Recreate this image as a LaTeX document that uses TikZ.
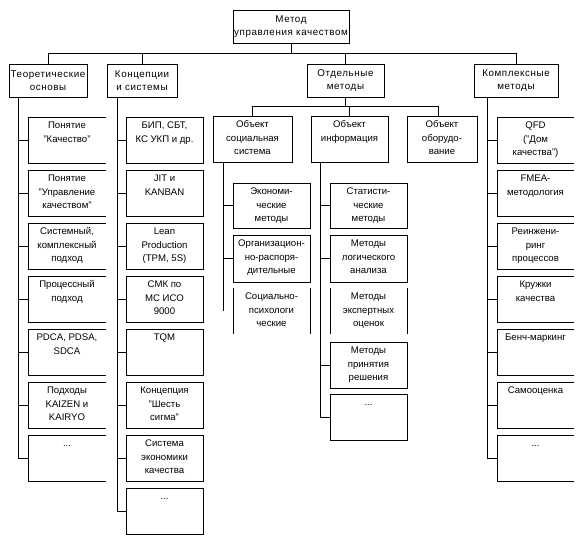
\documentclass[tikz,border=0pt]{standalone}
\usepackage{fontspec}
\setmainfont{Liberation Sans}
\newfontfamily\hdfont{Liberation Sans}[LetterSpace=6]
\newcommand\fsz{\fontsize{9.6}{13.5}\selectfont}
\newcommand\hsz{\hdfont\fontsize{9.8}{12.5}\selectfont}
\tikzset{
  ln/.style={line width=0.8pt, black},
  bxd/.style={draw, line width=0.8pt, anchor=north west, inner sep=0pt, outer sep=0pt},
  bxn/.style={anchor=north west, inner sep=0pt, outer sep=0pt},
  tx/.style={anchor=north, align=center, inner sep=0pt, font=\fsz},
  hd/.style={draw, line width=0.8pt, anchor=north west, inner sep=0pt, outer sep=0pt, align=center, font=\hsz},
}
% style, name, x, y, w, h, text
\newcommand\Bx[7]{%
  \node[#1, minimum width=#5pt, minimum height=#6pt] (#2) at (#3,#4) {};
  \node[tx] (#2t) at ([yshift=-3.5pt]#2.north) {\rule{0pt}{8pt}#7};}
\newcommand\OpenR[1]{\draw[ln] (#1.north east) -- (#1.north west) -- (#1.south west) -- (#1.south east);}
\newcommand\OpenTB[1]{\draw[ln] (#1.north west) -- (#1.south west); \draw[ln] (#1.north east) -- (#1.south east);}
\begin{document}
\begin{tikzpicture}[x=1pt,y=-1pt]
\useasboundingbox (0,0) rectangle (583,543);
% top
\node[hd, minimum width=116pt, minimum height=33pt] (T) at (233,10) {Метод\\управления качеством};
% level 1
\node[hd, minimum width=78pt, minimum height=33pt] (c1) at (9,64) {Теоретические\\основы};
\node[hd, minimum width=70pt, minimum height=33pt] (c2) at (107,64) {Концепции\\и системы};
\node[hd, minimum width=77pt, minimum height=33pt] (c3) at (307,64) {Отдельные\\методы};
\node[hd, minimum width=84pt, minimum height=33pt] (c4) at (474,64) {Комплексные\\методы};
\coordinate (bus) at (0,53);
\draw[ln] (T.south) -- (T.south |- bus);
\draw[ln] (c1.north) -- (c1.north |- bus) -- (c4.north |- bus) -- (c4.north);
\draw[ln] (c2.north |- bus) -- (c2.north);
\draw[ln] (c3.north |- bus) -- (c3.north);
% column 1
\Bx{bxn}{a1}{28}{117}{78}{46}{Понятие\\"Качество"}
\Bx{bxn}{a2}{28}{170}{78}{46}{Понятие\\"Управление\\качеством"}
\Bx{bxn}{a3}{28}{223}{78}{46}{Системный,\\комплексный\\подход}
\Bx{bxn}{a4}{28}{276}{78}{46}{Процессный\\подход}
\Bx{bxn}{a5}{28}{329}{78}{46}{PDCA, PDSA,\\SDCA}
\Bx{bxn}{a6}{28}{382}{78}{46}{Подходы\\KAIZEN и\\KAIRYO}
\Bx{bxn}{a7}{28}{435}{78}{46}{...}
\foreach \n in {a1,a2,a3,a4,a5,a6,a7} {\OpenR{\n}}
\draw[ln] (c1.south west) ++(9,0) coordinate (t1) |- (a7.west);
\foreach \n in {a1,a2,a3,a4,a5,a6} {\draw[ln] (t1 |- \n.west) -- (\n.west);}
% column 2
\Bx{bxd}{b1}{126}{117}{77}{46}{БИП, СБТ,\\КС УКП и др.}
\Bx{bxd}{b2}{126}{170}{77}{46}{JIT и\\KANBAN}
\Bx{bxd}{b3}{126}{223}{77}{46}{Lean\\Production\\(TPM, 5S)}
\Bx{bxd}{b4}{126}{276}{77}{46}{СМК по\\МС ИСО\\9000}
\Bx{bxd}{b5}{126}{329}{77}{46}{TQM}
\Bx{bxd}{b6}{126}{382}{77}{46}{Концепция\\"Шесть\\сигма"}
\Bx{bxd}{b7}{126}{435}{77}{46}{Система\\экономики\\качества}
\Bx{bxd}{b8}{126}{488}{77}{46}{...}
\draw[ln] (c2.south west) ++(10,0) coordinate (t2) |- (b8.west);
\foreach \n in {b1,b2,b3,b4,b5,b6,b7} {\draw[ln] (t2 |- \n.west) -- (\n.west);}
% column 3
\Bx{bxd}{os}{213}{116}{79}{46}{Объект\\социальная\\система}
\Bx{bxd}{oi}{311}{116}{77}{46}{Объект\\информация}
\Bx{bxd}{oo}{407}{116}{70}{46}{Объект\\оборудо-\\вание}
\coordinate (bus2) at (0,106);
\coordinate (ood) at ([xshift=-4pt]oo.north);
\draw[ln] (c3.south) -- (c3.south |- bus2);
\draw[ln] (os.north) -- (os.north |- bus2) -- (ood |- bus2) -- (ood);
\draw[ln] (oi.north |- bus2) -- (oi.north);
\Bx{bxd}{s1}{233}{183}{77}{45}{Экономи-\\ческие\\методы}
\Bx{bxd}{s2}{233}{235}{77}{47}{Организацион-\\но-распоря-\\дительные}
\Bx{bxn}{s3}{233}{288}{77}{46}{Социально-\\психологи\\ческие}
\OpenTB{s3}
\draw[ln] (os.south west) ++(10,0) coordinate (t3) -- (t3 |- s3.center);
\foreach \n in {s1,s2} {\draw[ln] (t3 |- \n.west) -- (\n.west);}
\Bx{bxd}{i1}{330}{183}{77}{45}{Статисти-\\ческие\\методы}
\Bx{bxd}{i2}{330}{235}{77}{47}{Методы\\логического\\анализа}
\Bx{bxn}{i3}{330}{288}{77}{46}{Методы\\экспертных\\оценок}
\OpenTB{i3}
\Bx{bxd}{i4}{330}{342}{77}{46}{Методы\\принятия\\решения}
\Bx{bxd}{i5}{330}{394}{77}{46}{...}
\draw[ln] (oi.south west) ++(9,0) coordinate (t4) |- (i5.west);
\foreach \n in {i1,i2,i4} {\draw[ln] (t4 |- \n.west) -- (\n.west);}
% column 4
\Bx{bxn}{d1}{497}{117}{77}{46}{QFD\\("Дом\\качества")}
\Bx{bxn}{d2}{497}{170}{77}{46}{FMEA-\\методология}
\Bx{bxn}{d3}{497}{223}{77}{46}{Реинжени-\\ринг\\процессов}
\Bx{bxn}{d4}{497}{276}{77}{46}{Кружки\\качества}
\Bx{bxn}{d5}{497}{329}{77}{46}{Бенч-маркинг}
\Bx{bxn}{d6}{497}{382}{77}{46}{Самооценка}
\Bx{bxn}{d7}{497}{435}{77}{46}{...}
\foreach \n in {d1,d2,d3,d4,d5,d6,d7} {\OpenR{\n}}
\draw[ln] (c4.south west) ++(13,0) coordinate (t5) |- (d7.west);
\foreach \n in {d1,d2,d3,d4,d5,d6} {\draw[ln] (t5 |- \n.west) -- (\n.west);}
\end{tikzpicture}
\end{document}
